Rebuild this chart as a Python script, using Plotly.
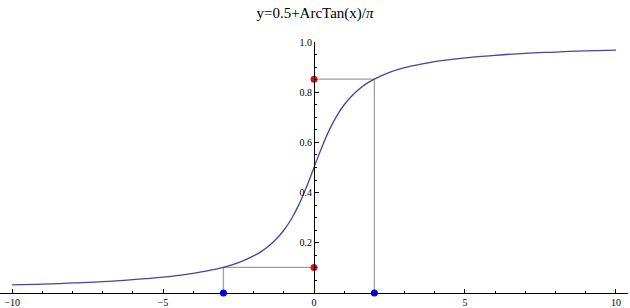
import plotly.graph_objects as go

# Curve samples
curve_x = [-10, -9, -8, -7, -6, -5, -4.5, -4, -3.5, -3, -2.5, -2, -1.75, -1.5, -1.25, -1,
           -0.75, -0.5, -0.25, 0, 0.25, 0.5, 0.75, 1, 1.25, 1.5, 1.75, 2, 2.5, 3, 3.5, 4,
           4.5, 5, 6, 7, 8, 9, 10]
curve_y = [0.032, 0.035, 0.040, 0.045, 0.053, 0.063, 0.070, 0.078, 0.089, 0.102, 0.121,
           0.148, 0.165, 0.187, 0.215, 0.250, 0.295, 0.352, 0.422, 0.500, 0.578, 0.648,
           0.705, 0.750, 0.785, 0.813, 0.835, 0.852, 0.879, 0.898, 0.911, 0.922, 0.930,
           0.937, 0.947, 0.955, 0.960, 0.965, 0.968]

# Highlighted points
blue_x = [-3, 2]
red_y = [0.102, 0.852]

x_tickvals = [-10, -5, 0, 5, 10]
x_ticktext = ["\u221210", "\u22125", "0", "5", "10"]
y_tickvals = [0.2, 0.4, 0.6, 0.8, 1.0]
y_ticktext = ["0.2", "0.4", "0.6", "0.8", "1.0"]

title_text = "y=0.5+ArcTan(x)/<i>\u03c0</i>"

curve_color = "rgb(72,66,160)"
guide_color = "rgb(160,160,160)"

fig = go.Figure()

# guide lines
gx, gy = [], []
for bx, ry in zip(blue_x, red_y):
    gx += [bx, bx, 0, None]
    gy += [0, ry, ry, None]
fig.add_trace(go.Scatter(x=gx, y=gy, mode="lines", line=dict(color=guide_color, width=1.3),
                         hoverinfo="skip", showlegend=False, cliponaxis=False))

fig.add_trace(go.Scatter(x=curve_x, y=curve_y, mode="lines", line_shape="spline",
                         line=dict(color=curve_color, width=1.3), showlegend=False))

fig.add_trace(go.Scatter(x=[0] * len(red_y), y=red_y, mode="markers",
                         marker=dict(color="#ff0000", size=7, line=dict(width=0)),
                         showlegend=False, cliponaxis=False))
fig.add_trace(go.Scatter(x=blue_x, y=[0] * len(blue_x), mode="markers",
                         marker=dict(color="#0000ff", size=7, line=dict(width=0)),
                         showlegend=False, cliponaxis=False))

font_family = "Liberation Serif"

fig.update_layout(
    width=630, height=308,
    margin=dict(l=0, r=2, t=42, b=15, autoexpand=False),
    paper_bgcolor="white", plot_bgcolor="white",
    title=dict(text=title_text, x=0.5, xanchor="center", y=1 - 13 / 308, yanchor="middle",
               yref="container", font=dict(family=font_family, size=15, color="black")),
    font=dict(family=font_family, color="black"),
    xaxis=dict(range=[-10.4, 10.4], showgrid=False, zeroline=False, showline=True,
               linecolor="black", linewidth=1, ticks="inside", ticklen=4, tickcolor="black",
               tickvals=x_tickvals, ticktext=x_ticktext, tickfont=dict(size=10),
               minor=dict(ticks="inside", dtick=1, tick0=0, ticklen=2, tickcolor="black", showgrid=False),
               automargin=False, fixedrange=True),
    yaxis=dict(range=[0, 1.0], showgrid=False, zeroline=False, showline=True,
               linecolor="black", linewidth=1, ticks="inside", ticklen=4, tickcolor="black",
               tickvals=y_tickvals, ticktext=y_ticktext, tickfont=dict(size=10),
               minor=dict(ticks="inside", dtick=0.05, tick0=0, ticklen=2, tickcolor="black", showgrid=False),
               anchor="free", position=0.5, automargin=False, fixedrange=True),
)

fig.write_html("out.html")
